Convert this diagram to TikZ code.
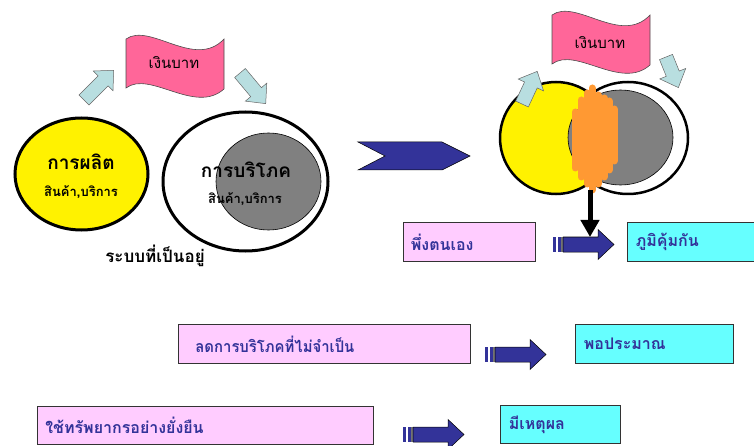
\documentclass[tikz,border=0pt]{standalone}
\usepackage{fontspec}
\newfontfamily\thai[Script=Thai]{Loma}
\usetikzlibrary{arrows.meta,shapes.geometric}
\definecolor{navy}{HTML}{333399}
\definecolor{pinkfill}{HTML}{FFCCFF}
\definecolor{cyanfill}{HTML}{66FFFF}
\definecolor{flagpink}{HTML}{FF6699}
\definecolor{paleblue}{HTML}{B8DEE0}
\definecolor{blob}{HTML}{FF9933}
\definecolor{midgray}{HTML}{808080}
\newcommand\lbarrow[5]{\path[lba,shift={(#1,#2)},rotate=#3] (0,-7) -- ({#4-15},-7) -- ({#4-15},-14) -- (#4,0) -- ({#4-15},14) -- ({#4-15},7) -- (0,7) -- cycle;}
\newcommand\navyarrow[2]{%
  \begin{scope}[shift={(#1,#2)}]
    \fill[navy] (0,-7.5) rectangle (3,7.5);
    \fill[navy] (4.5,-7.5) rectangle (7.5,7.5);
    \fill[black!55] (8.3,-7.5) rectangle (10,7.5);
    \path[nav] (10,-7.5) -- (45,-7.5) -- (45,-15) -- (61,0) -- (45,15) -- (45,7.5) -- (10,7.5) -- cycle;
  \end{scope}}
\begin{document}
\begin{tikzpicture}[x=1pt,y=-1pt,font=\thai,
  lba/.style={fill=paleblue,draw=black!60,line width=0.5pt},
  nav/.style={fill=navy,draw=black,line width=0.5pt},
  flagshape/.style={fill=flagpink,draw=black!70,line width=0.6pt},
  pbox/.style={rectangle,fill=pinkfill,draw=black!80,line width=0.8pt,anchor=north west,inner ysep=0pt,align=left,font=\thai\bfseries\fontsize{16}{18}\selectfont,text=navy},
  cbox/.style={pbox,fill=cyanfill},
  bigbold/.style={font=\thai\bfseries\fontsize{19}{22}\selectfont},
  smallbold/.style={font=\thai\bfseries\fontsize{13}{15}\selectfont},
  flagtext/.style={font=\thai\fontsize{15}{17}\selectfont}]
\useasboundingbox (0,0) rectangle (754,446);

% ---------- left: existing system ----------
\node[draw=black,line width=3pt,fill=yellow,ellipse,minimum width=133,minimum height=112] (prod) at (81.5,174) {};
\node[draw=black,line width=3pt,fill=white,ellipse,minimum width=165,minimum height=139] (cons) at (245.5,181.5) {};
\node[draw=black,line width=0.6pt,fill=midgray,ellipse,minimum width=105,minimum height=97] (consin) at (268.5,181.5) {};
\node[bigbold] (prodt) at (81,162) {การผลิต};
\node[smallbold] (prods) at (81,192) {สินค้า,บริการ};
\node[bigbold] (const) at (246,170) {การบริโภค};
\node[smallbold] (conss) at (245,199) {สินค้า,บริการ};
\node[font=\thai\bfseries\fontsize{17}{19}\selectfont] (sys) at (155,256) {ระบบที่เป็นอยู่};

\path[flagshape] (126,39) .. controls (150,22) and (195,70) .. (224,39) -- (224,89) .. controls (195,115) and (150,70) .. (126,88) -- cycle;
\node[flagtext] (money1) at (174,63) {เงินบาท};
\lbarrow{84}{100}{45}{42}{}
\lbarrow{240}{73}{-50}{40}{}

% ---------- chevron ----------
\path[nav] (358,142) -- (442,142) -- (470,156) -- (442,170) -- (358,170) -- (385,156) -- cycle;

% ---------- right: sufficiency ----------
\node[draw=black,line width=2.5pt,fill=white,ellipse,minimum width=120,minimum height=112] (cons2) at (628,138) {};
\node[draw=black,line width=2.5pt,fill=yellow,ellipse,minimum width=112,minimum height=112] (prod2) at (556,138) {};
\node[draw=black,line width=0.6pt,fill=midgray,ellipse,minimum width=105,minimum height=95] (consin2) at (620.5,137.5) {};
\foreach \x/\a/\b in {575/112/168,581/100/177,587/93/184,592/88/190,598/95/184,604/98/177,609/101/170,614/109/161}
  \draw[blob,line width=7pt,line cap=round] (\x,\a) -- (\x,\b);
\coordinate (blobbot) at (590,190);

\path[flagshape,shift={(426,-24)}] (126,39) .. controls (150,22) and (195,70) .. (224,39) -- (224,89) .. controls (195,115) and (150,70) .. (126,88) -- cycle;
\node[flagtext] (money2) at (600,43) {เงินบาท};
\lbarrow{522}{104}{65}{36}{}
\lbarrow{666}{57}{-68}{33}{}

% ---------- boxes ----------
\node[pbox,minimum width=132,minimum height=39,text width=117,inner xsep=7.5] (b1) at (403,222) {พึ่งตนเอง};
\node[cbox,minimum width=127,minimum height=39,text width=110,inner xsep=8.5] (c1) at (627,222) {ภูมิคุ้มกัน};
\node[pbox,minimum width=292,minimum height=39,text width=258,inner xsep=17] (b2) at (178,324) {\scalebox{0.93}[1]{ลดการบริโภคที่ไม่จำเป็น}};
\node[cbox,minimum width=158,minimum height=39,text width=141,inner xsep=8.5] (c2) at (575,324) {พอประมาณ};
\node[pbox,minimum width=336,minimum height=38,text width=320,inner xsep=8] (b3) at (37,406) {ใช้ทรัพยากรอย่างยั่งยืน};
\node[cbox,minimum width=120,minimum height=38,text width=103,inner xsep=8.5] (c3) at (500,405) {มีเหตุผล};

\navyarrow{553}{244.5}
\navyarrow{485}{354.5}
\navyarrow{403}{434.5}

\coordinate (tipb) at (590,237);
\draw[line width=5pt,-{Triangle[length=17pt,width=18pt]}] (blobbot) -- (tipb);
\end{tikzpicture}
\end{document}
